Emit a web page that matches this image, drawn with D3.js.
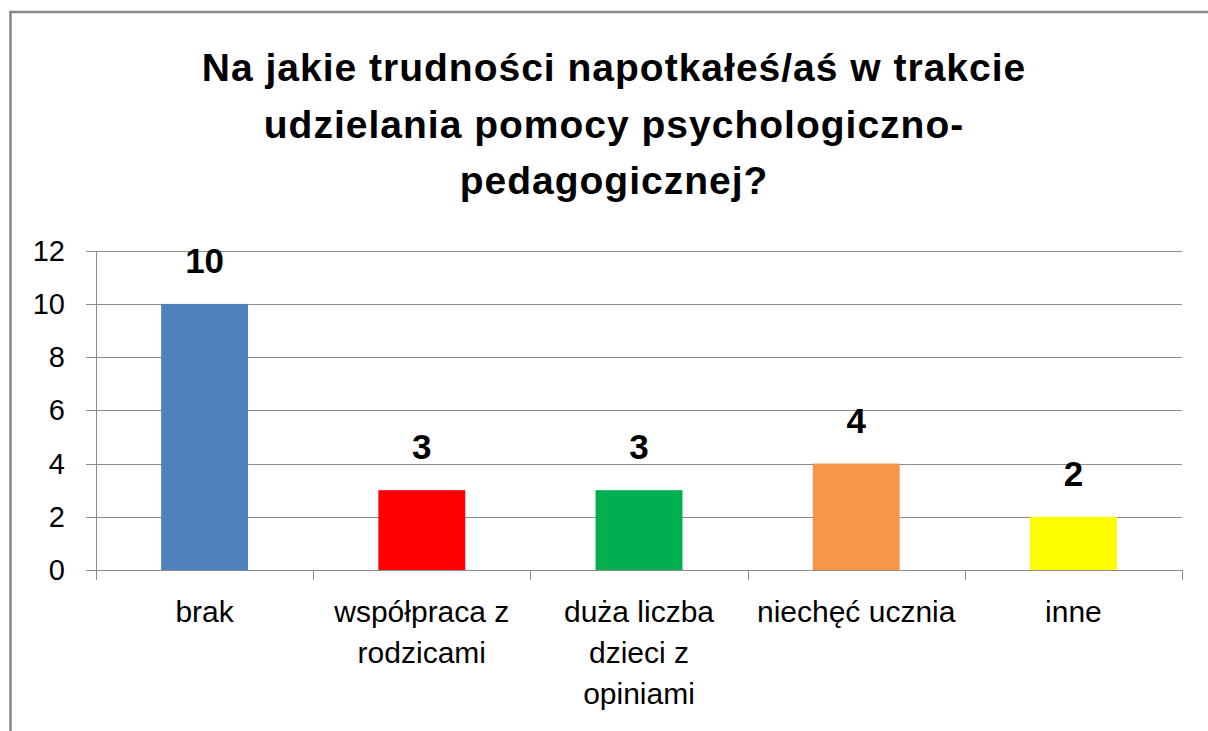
<!DOCTYPE html>
<html><head><meta charset="utf-8">
<script src="https://cdn.jsdelivr.net/npm/d3@7/dist/d3.min.js"></script>
<style>
html,body{margin:0;padding:0;background:#fff;}
svg{display:block;}
text{font-family:"Liberation Sans",Arial,sans-serif;fill:#000;}
</style></head><body>
<script>
const titleLines = ["Na jakie trudności napotkałeś/aś w trakcie", "udzielania pomocy psychologiczno-", "pedagogicznej?"];
const categories = ["brak", "współpraca z rodzicami", "duża liczba dzieci z opiniami", "niechęć ucznia", "inne"];
const categoryLines = [["brak"], ["współpraca z", "rodzicami"], ["duża liczba", "dzieci z", "opiniami"], ["niechęć ucznia"], ["inne"]];
const values = [10, 3, 3, 4, 2];
const colors = ["#4F81BD", "#FF0000", "#00B050", "#F79646", "#FFFF00"];
const yTicks = [0, 2, 4, 6, 8, 10, 12];

(function () {
const W = 1208, H = 731;
const svg = d3.select("body").append("svg").attr("width", W).attr("height", H);

svg.append("rect").attr("x", 10.5).attr("y", 12).attr("width", 1300).attr("height", 900)
  .attr("fill", "#fff").attr("stroke", "#878787").attr("stroke-width", 2.5);

const tl = svg.append("g");
titleLines.forEach((t, i) => {
  tl.append("text").attr("x", 614).attr("y", 81 + i * 56.5).attr("text-anchor", "middle")
    .attr("font-size", 39).attr("letter-spacing", 1).attr("font-weight", "bold").text(t);
});

const pLeft = 96, pRight = 1182, pTop = 250.7, pBottom = 570;
const x = d3.scaleBand().domain(categories).range([pLeft, pRight]).paddingInner(0.6).paddingOuter(0.3);
const y = d3.scaleLinear().domain([0, 12]).range([pBottom, pTop]);

svg.append("g").selectAll("line").data(yTicks).join("line")
  .attr("x1", 86).attr("x2", pRight).attr("y1", d => Math.round(y(d)) + 0.5).attr("y2", d => Math.round(y(d)) + 0.5)
  .attr("stroke", "#8c8c8c").attr("stroke-width", 1);

svg.append("line").attr("x1", pLeft + 0.5).attr("x2", pLeft + 0.5).attr("y1", pTop).attr("y2", pBottom + 10)
  .attr("stroke", "#8c8c8c");

svg.append("g").selectAll("text").data(yTicks).join("text")
  .attr("x", 65).attr("y", d => y(d) + 10).attr("text-anchor", "end").attr("font-size", 29).text(d => d);

svg.append("g").selectAll("rect").data(values).join("rect")
  .attr("x", (d, i) => x(categories[i])).attr("width", x.bandwidth())
  .attr("y", d => y(d)).attr("height", d => y(0) - y(d))
  .attr("fill", (d, i) => colors[i]);

svg.append("line").attr("x1", 86).attr("x2", pRight).attr("y1", pBottom + 0.5).attr("y2", pBottom + 0.5).attr("stroke", "#8c8c8c");
const bounds = categories.map(c => x(c) - (x.step() - x.bandwidth()) / 2).concat([pRight]);
svg.append("g").selectAll("line").data(bounds).join("line")
  .attr("x1", d => Math.round(d) + 0.5).attr("x2", d => Math.round(d) + 0.5)
  .attr("y1", pBottom).attr("y2", pBottom + 10).attr("stroke", "#8c8c8c");

svg.append("g").selectAll("text").data(values).join("text")
  .attr("x", (d, i) => x(categories[i]) + x.bandwidth() / 2).attr("y", d => y(d) - 31)
  .attr("text-anchor", "middle").attr("font-size", 35).attr("font-weight", "bold").text(d => d);

categoryLines.forEach((lines, i) => {
  lines.forEach((t, j) => {
    svg.append("text").attr("x", x(categories[i]) + x.bandwidth() / 2).attr("y", 622 + j * 41)
      .attr("text-anchor", "middle").attr("font-size", 30).text(t);
  });
});
})();
</script>
</body></html>
